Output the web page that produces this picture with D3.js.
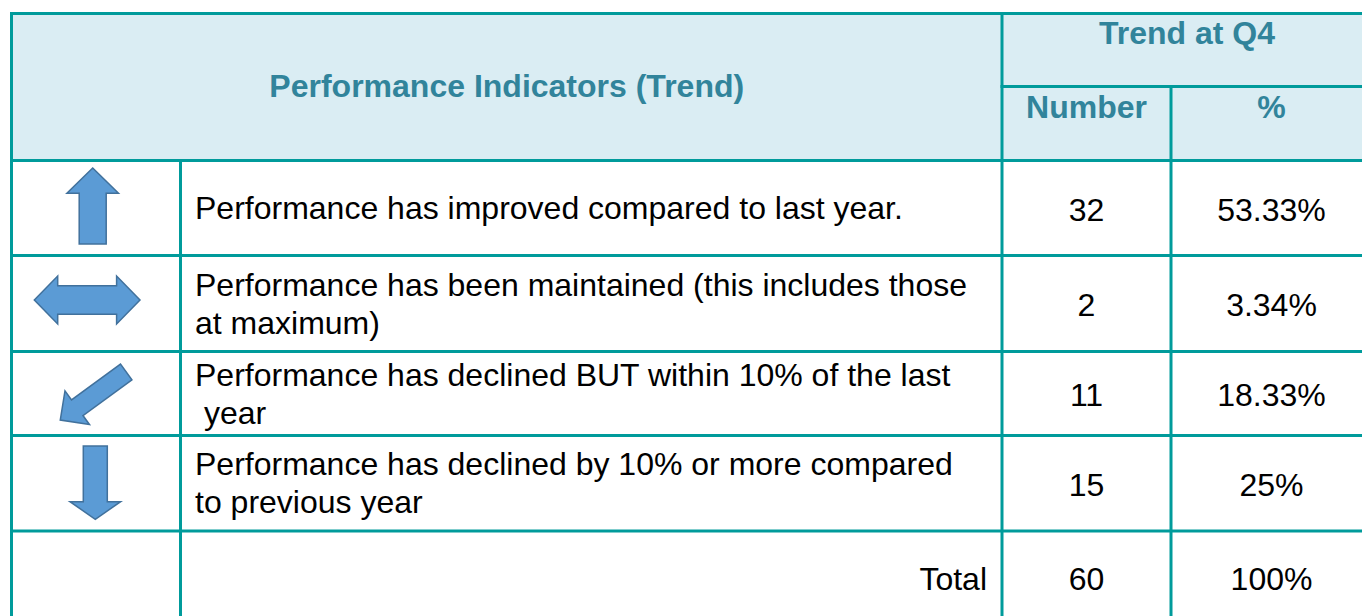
<!DOCTYPE html>
<html>
<head>
<meta charset="utf-8">
<script src="https://cdn.jsdelivr.net/npm/d3@7"></script>
<style>
  html, body { margin: 0; padding: 0; background: #fff; }
  svg { display: block; }
  text { font-family: "Liberation Sans", Arial, sans-serif; }
</style>
</head>
<body>
<svg id="chart" width="1362" height="616"></svg>
<script>
// table content
var headerTitle = "Performance Indicators (Trend)";
var groupTitle = "Trend at Q4";
var colTitles = ["Number", "%"];
var trendIcons = ["up", "both", "downleft", "down"];
var trendLabels = [
  ["Performance has improved compared to last year."],
  ["Performance has been maintained (this includes those", "at maximum)"],
  ["Performance has declined BUT within 10% of the last", " year"],
  ["Performance has declined by 10% or more compared", "to previous year"]
];
var counts = [32, 2, 11, 15];
var percents = ["53.33%", "3.34%", "18.33%", "25%"];
var totalLabel = "Total";
var totalCount = 60;
var totalPercent = "100%";

// layout
var teal = "#009b9b",
  headBg = "#daedf3",
  headText = "#31849b",
  arrowFill = "#5b9bd5",
  arrowStroke = "#41719c";
var colEdges = [11.5, 180.5, 1002, 1171, 1372];
var rowEdges = [160.5, 255.5, 351.5, 435.5, 531, 640];
var topY = 13.5, midHead = 86.5;
var fontSize = 32, lineGap = 38;

var svg = d3.select("#chart");

var rowMid = function(i) { return (rowEdges[i] + rowEdges[i + 1]) / 2; };

// header background
svg.append("rect")
  .attr("x", colEdges[0]).attr("y", topY)
  .attr("width", colEdges[4] - colEdges[0])
  .attr("height", rowEdges[0] - topY)
  .attr("fill", headBg);

// header texts
var hdr = svg.append("g")
  .attr("font-weight", "bold")
  .attr("font-size", fontSize + "px")
  .attr("fill", headText)
  .attr("text-anchor", "middle");
hdr.append("text")
  .attr("x", (colEdges[0] + colEdges[2]) / 2).attr("y", 97)
  .text(headerTitle);
hdr.append("text")
  .attr("x", (colEdges[2] + colEdges[4]) / 2).attr("y", 43.5)
  .text(groupTitle);
hdr.selectAll(".ct").data(colTitles).enter().append("text")
  .attr("x", function(d, i) { return (colEdges[i + 2] + colEdges[i + 3]) / 2; })
  .attr("y", 118)
  .text(function(d) { return d; });

// body rows
var rows = trendLabels.map(function(lines, i) {
  return { icon: trendIcons[i], lines: lines, n: counts[i], pct: percents[i] };
});

var body = svg.append("g")
  .attr("font-size", fontSize + "px")
  .attr("fill", "#000");

var rg = body.selectAll(".row").data(rows).enter().append("g").attr("class", "row");

rg.each(function(d, i) {
  var g = d3.select(this);
  var cy = rowMid(i);
  var n = d.lines.length;
  d.lines.forEach(function(line, j) {
    g.append("text")
      .attr("x", 195)
      .attr("y", cy + (j - (n - 1) / 2) * lineGap)
      .attr("dy", "0.35em")
      .attr("xml:space", "preserve")
      .style("white-space", "pre")
      .text(line);
  });
  g.append("text")
    .attr("x", (colEdges[2] + colEdges[3]) / 2).attr("y", cy + 1.5)
    .attr("dy", "0.35em").attr("text-anchor", "middle")
    .text(d.n);
  g.append("text")
    .attr("x", (colEdges[3] + colEdges[4]) / 2).attr("y", cy + 1.5)
    .attr("dy", "0.35em").attr("text-anchor", "middle")
    .text(d.pct);
});

// total row
body.append("text")
  .attr("x", 987).attr("y", 590).attr("text-anchor", "end").text(totalLabel);
body.append("text")
  .attr("x", (colEdges[2] + colEdges[3]) / 2).attr("y", 590)
  .attr("text-anchor", "middle").text(totalCount);
body.append("text")
  .attr("x", (colEdges[3] + colEdges[4]) / 2).attr("y", 590)
  .attr("text-anchor", "middle").text(totalPercent);

// arrow icons, drawn along +x from tail (0) to tip (L)
function arrowPath(L, w, hw, hl) {
  return d3.line()([
    [0, -w], [L - hl, -w], [L - hl, -hw], [L, 0],
    [L - hl, hw], [L - hl, w], [0, w]
  ]) + "Z";
}
function doubleArrowPath(L, w, hw, hl) {
  return d3.line()([
    [0, 0], [hl, -hw], [hl, -w], [L - hl, -w], [L - hl, -hw], [L, 0],
    [L - hl, hw], [L - hl, w], [hl, w], [hl, hw]
  ]) + "Z";
}
var iconShapes = {
  up: { d: arrowPath(76, 13.5, 25.8, 25.3), tf: "translate(92.7,244) rotate(-90)" },
  both: { d: doubleArrowPath(105.7, 14.2, 24, 23.4), tf: "translate(34.3,300)" },
  downleft: { d: arrowPath(81.6, 9.7, 20.8, 21), tf: "translate(126.2,372) rotate(143.9)" },
  down: { d: arrowPath(73.3, 12, 25.3, 17.6), tf: "translate(95.3,446) rotate(90)" }
};
svg.append("g").selectAll("path").data(trendIcons).enter().append("path")
  .attr("d", function(d) { return iconShapes[d].d; })
  .attr("transform", function(d) { return iconShapes[d].tf; })
  .attr("fill", arrowFill)
  .attr("stroke", arrowStroke)
  .attr("stroke-width", 1.5)
  .attr("stroke-linejoin", "miter");

// grid lines
var grid = svg.append("g")
  .attr("stroke", teal)
  .attr("stroke-width", 3)
  .attr("fill", "none");
var hLines = [
  [colEdges[0], colEdges[4], topY],
  [colEdges[2], colEdges[4], midHead]
].concat(rowEdges.slice(0, 5).map(function(y) { return [colEdges[0], colEdges[4], y]; }));
grid.selectAll(".h").data(hLines).enter().append("line")
  .attr("x1", function(d) { return d[0] - 1.5; })
  .attr("x2", function(d) { return d[1]; })
  .attr("y1", function(d) { return d[2]; })
  .attr("y2", function(d) { return d[2]; });
var vLines = [
  [colEdges[0], topY, 640],
  [colEdges[1], rowEdges[0], 640],
  [colEdges[2], topY, 640],
  [colEdges[3], midHead, 640]
];
grid.selectAll(".v").data(vLines).enter().append("line")
  .attr("x1", function(d) { return d[0]; })
  .attr("x2", function(d) { return d[0]; })
  .attr("y1", function(d) { return d[1] - 1.5; })
  .attr("y2", function(d) { return d[2]; });
</script>
</body>
</html>
